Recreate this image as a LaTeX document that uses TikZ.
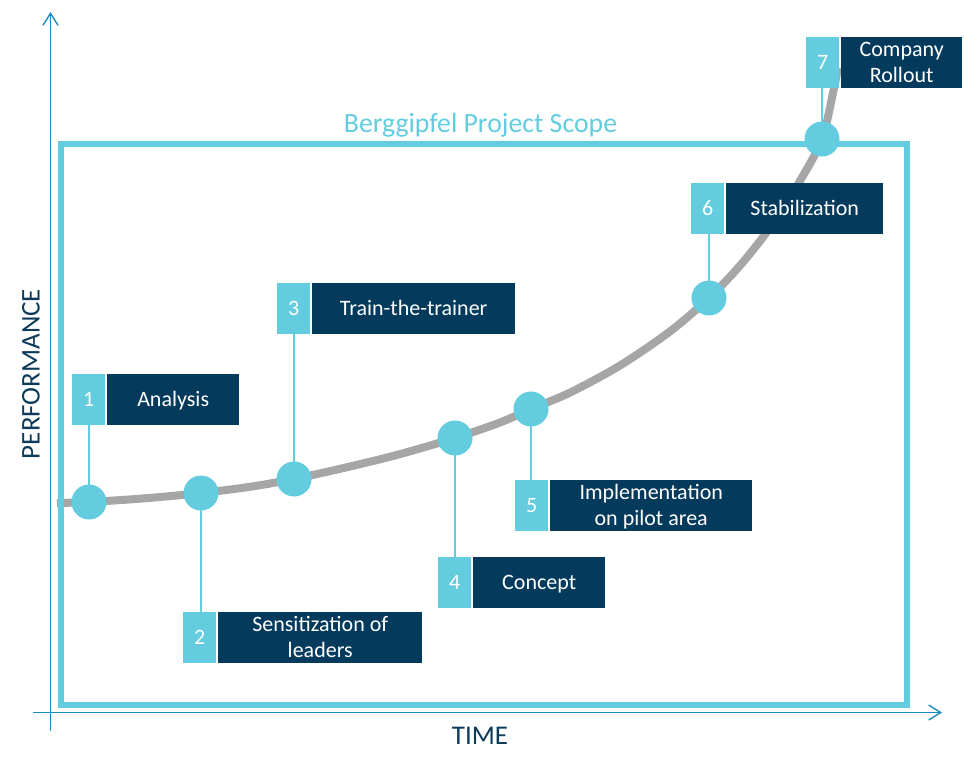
\documentclass[tikz,border=0pt]{standalone}
\usepackage{fontspec}
\setmainfont{Carlito}
\usetikzlibrary{arrows.meta,backgrounds}
\definecolor{cyanL}{RGB}{99,204,223}
\definecolor{navyB}{RGB}{4,58,92}
\definecolor{curveG}{RGB}{166,166,166}
\definecolor{axisB}{RGB}{28,140,190}
\definecolor{axisT}{RGB}{12,59,90}
\begin{document}
\begin{tikzpicture}[x=1pt,y=-1pt,
  numbox/.style={fill=cyanL, text=white, minimum width=33pt, minimum height=51pt,
    inner sep=0pt, anchor=north west, font=\fontsize{22}{26}\selectfont,
    text height=18pt, text depth=3.8pt},
  labbox/.style={fill=navyB, text=white, minimum width=#1, minimum height=51pt,
    inner sep=0pt, anchor=north west, font=\fontsize{22}{26}\selectfont,
    align=center, text height=18pt, text depth=3.8pt},
  twoline/.style={text height=44pt, text depth=3.8pt},
  dot/.style={circle, fill=cyanL, minimum size=35pt, inner sep=0pt},
  conn/.style={cyanL, line width=2pt},
  axis/.style={axisB, line width=1.4pt},
  axlab/.style={text=axisT, font=\fontsize{27}{30}\selectfont, inner sep=0pt},
  tip/.style={-{Straight Barb[length=12pt,width=15pt]}}
]
\useasboundingbox (0,0) rectangle (965,766);

% axes
\coordinate (yb) at (50.5,731);
\coordinate (yt) at (50.5,12);
\coordinate (xl) at (33,712.5);
\coordinate (xr) at (942,712.5);

% milestone dots
\node[dot] (c1) at (89,502) {};
\node[dot] (c2) at (201,493) {};
\node[dot] (c3) at (294,479) {};
\node[dot] (c4) at (455,438) {};
\node[dot] (c5) at (531,409) {};
\node[dot] (c6) at (709,298) {};
\node[dot] (c7) at (822,139) {};

% boxes
\node[numbox] (n1) at (72,374) {1};
\node[labbox=132pt] (l1) at (107,374) {Analysis};
\node[numbox] (n2) at (183,612) {2};
\node[labbox=204pt, twoline] (l2) at (218,612) {Sensitization of\\leaders};
\node[numbox] (n3) at (277,283) {3};
\node[labbox=203pt] (l3) at (312,283) {Train-the-trainer};
\node[numbox] (n4) at (438,557) {4};
\node[labbox=132pt] (l4) at (473,557) {Concept};
\node[numbox] (n5) at (515,480) {5};
\node[labbox=202pt, twoline] (l5) at (550,480) {Implementation\\on pilot area};
\node[numbox] (n6) at (691,183) {6};
\node[labbox=157pt] (l6) at (726,183) {Stabilization};
\node[numbox] (n7) at (806,37) {7};
\node[labbox=121pt, twoline] (l7) at (841,37) {Company\\Rollout};

% labels
\node[text=cyanL, font=\fontsize{27.8}{30}\selectfont, anchor=base, inner sep=0pt] (title) at (480.5,132.7) {Berggipfel Project Scope};
\node[axlab, rotate=90] (perf) at (31,374) {PERFORMANCE};
\node[axlab] (time) at (480,736) {TIME};

\begin{pgfonlayer}{background}
  \draw[axis, tip] (yb) -- (yt);
  \draw[axis, tip] (xl) -- (xr);
  \draw[curveG, line width=8pt] plot[smooth, tension=0.5] coordinates
    {(57,503) (c1.center) (145,498.3) (c2.center) (250,486.8) (c3.center)
     (350,466.5) (400,454.1) (c4.center) (500,422.5) (c5.center) (570,392.6)
     (620,365.5) (670,331.4) (c6.center) (740,265.6) (770,227.6) (800,180.8)
     (c7.center) (834,88) (838,68)};
  \node[draw=cyanL, line width=6pt, minimum width=846pt, minimum height=561pt,
    inner sep=0pt, anchor=north west] (scope) at (58,141) {};
  \draw[conn] (c1.center) -- (c1.center |- n1.south);
  \draw[conn] (c2.center) -- (c2.center |- n2.north);
  \draw[conn] (c3.center) -- (c3.center |- n3.south);
  \draw[conn] (c4.center) -- (c4.center |- n4.north);
  \draw[conn] (c5.center) -- (c5.center |- n5.north);
  \draw[conn] (c6.center) -- (c6.center |- n6.south);
  \draw[conn] (c7.center) -- (c7.center |- n7.south);
\end{pgfonlayer}
\end{tikzpicture}
\end{document}
